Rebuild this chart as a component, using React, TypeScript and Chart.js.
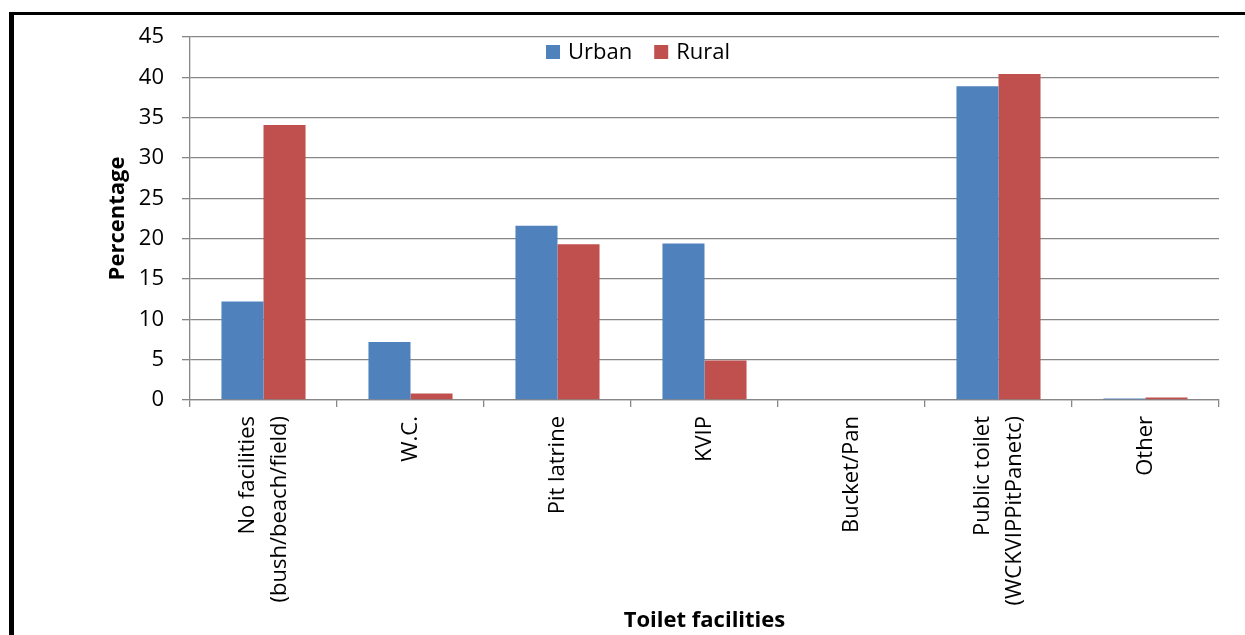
import React, { useEffect, useRef } from "react";
import { Chart, registerables } from "chart.js";

Chart.register(...registerables);

const categories: string[][] = [
  ["No facilities", "(bush/beach/field)"],
  ["W.C."],
  ["Pit latrine"],
  ["KVIP"],
  ["Bucket/Pan"],
  ["Public toilet", "(WCKVIPPitPanetc)"],
  ["Other"],
];
const urban = [12.2, 7.2, 21.6, 19.4, 0, 38.9, 0.2];
const rural = [34.1, 0.8, 19.3, 4.9, 0, 40.4, 0.3];
const seriesNames = ["Urban", "Rural"];
const seriesColors = ["#4F81BD", "#C0504D"];
const yTitle = "Percentage";
const xTitle = "Toilet facilities";

const FONT = "'Open Sans', 'Liberation Sans', sans-serif";
const GRID = "#878787";

const legendPlugin = {
  id: "insideLegend",
  afterDraw(chart: any) {
    const { ctx, chartArea } = chart;
    ctx.save();
    ctx.font = `22px ${FONT}`;
    ctx.textBaseline = "middle";
    ctx.textAlign = "left";
    let x = chartArea.left + 356;
    const y = chartArea.top + 15;
    seriesNames.forEach((name, i) => {
      ctx.fillStyle = seriesColors[i];
      ctx.fillRect(x, y - 7, 14, 14);
      x += 22;
      ctx.fillStyle = "#000";
      ctx.fillText(name, x, y + 1);
      x += ctx.measureText(name).width + 22;
    });
    ctx.restore();
  },
};

const xLabelPlugin = {
  id: "xLabels",
  afterDraw(chart: any) {
    const { ctx } = chart;
    const xs = chart.scales.x;
    const lh = 32;
    ctx.save();
    ctx.font = `22px ${FONT}`;
    ctx.fillStyle = "#000";
    ctx.textAlign = "right";
    ctx.textBaseline = "middle";
    categories.forEach((lines, i) => {
      const cx = xs.getPixelForValue(i);
      const top = xs.top + 16;
      lines.forEach((line, j) => {
        const off = (j - (lines.length - 1) / 2) * lh;
        ctx.save();
        ctx.translate(cx + off, top);
        ctx.rotate(-Math.PI / 2);
        ctx.fillText(line, 0, 0);
        ctx.restore();
      });
    });
    ctx.restore();
  },
};

export default function App() {
  const ref = useRef<HTMLCanvasElement>(null);
  useEffect(() => {
    if (!ref.current) return;
    const chart = new Chart(ref.current, {
      type: "bar",
      data: {
        labels: categories.map((c) => c.join(" ")),
        datasets: [
          { label: seriesNames[0], data: urban, backgroundColor: seriesColors[0], categoryPercentage: 0.572, barPercentage: 1 },
          { label: seriesNames[1], data: rural, backgroundColor: seriesColors[1], categoryPercentage: 0.572, barPercentage: 1 },
        ],
      },
      options: {
        responsive: false,
        animation: false,
        layout: { padding: { top: 22, right: 26, left: 0, bottom: 0 } },
        plugins: { legend: { display: false }, tooltip: { enabled: false } },
        scales: {
          x: {
            afterFit: (s: any) => { s.height = 235; },
            grid: { display: true, drawOnChartArea: false, drawTicks: true, tickLength: 7, color: GRID, lineWidth: 1.3, offset: true },
            border: { display: true, color: GRID, width: 1.3 },
            ticks: { display: false },
            title: { display: true, text: xTitle, color: "#000", font: { family: FONT, size: 22, weight: "bold" }, padding: { top: 0, bottom: 1 } },
          },
          y: {
            min: 0, max: 45,
            afterFit: (s: any) => { s.width = 176; s.paddingTop = 0; s.paddingBottom = 0; },
            grid: { color: GRID, lineWidth: 1.3, tickLength: 8 },
            border: { display: true, color: GRID, width: 1.3 },
            ticks: { stepSize: 5, padding: 18, color: "#000", font: { family: FONT, size: 22 } },
            title: { display: true, text: yTitle, color: "#000", font: { family: FONT, size: 22, weight: "bold" }, padding: { top: 91, bottom: 0 } },
          },
        },
      },
      plugins: [legendPlugin, xLabelPlugin],
    });
    return () => chart.destroy();
  }, []);

  return (
    <div style={{ position: "fixed", left: 0, top: 0, width: 1245, height: 635, overflow: "hidden", background: "#fff" }}>
      <div style={{ position: "absolute", left: 9, top: 12, width: 5, height: 623, background: "#000" }} />
      <div style={{ position: "absolute", left: 9, top: 12, width: 1236, height: 3, background: "#000" }} />
      <canvas ref={ref} width={1231} height={620} style={{ position: "absolute", left: 14, top: 15, width: 1231, height: 620 }} />
    </div>
  );
}
